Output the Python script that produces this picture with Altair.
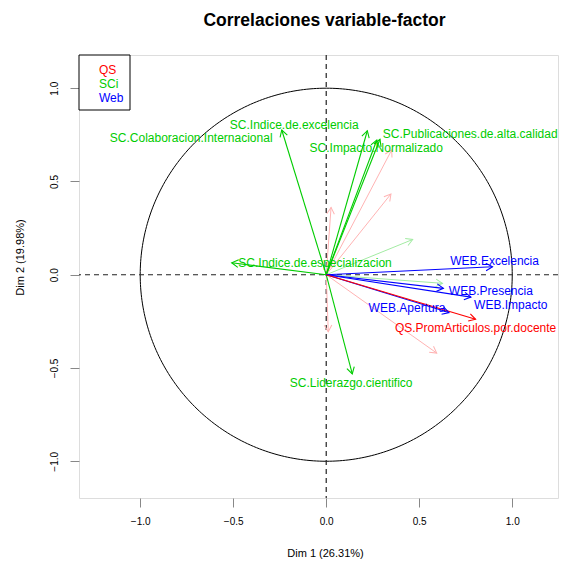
import altair as alt
import numpy as np
import pandas as pd

# Variables drawn with a name: coordinates on Dim 1 / Dim 2
var_names = [
    "SC.Colaboracion.Internacional", "SC.Indice.de.excelencia",
    "SC.Publicaciones.de.alta.calidad", "SC.Impacto.Normalizado",
    "SC.Indice.de.especializacion", "SC.Liderazgo.cientifico",
    "WEB.Excelencia", "WEB.Presencia", "WEB.Impacto", "WEB.Apertura",
    "QS.PromArticulos.por.docente",
]
var_group = ["SCi"] * 6 + ["Web"] * 4 + ["QS"]
var_dim1 = [-0.239, 0.221, 0.289, 0.272, -0.508, 0.140, 0.894, 0.630, 0.778, 0.660, 0.803]
var_dim2 = [0.776, 0.772, 0.726, 0.722, 0.064, -0.532, 0.043, -0.073, -0.120, -0.203, -0.239]
# where each name is written
label_dim1 = [-0.726, -0.172, 0.774, 0.269, -0.060, 0.134, 0.905, 0.885, 0.992, 0.434, 0.803]
label_dim2 = [0.735, 0.804, 0.754, 0.681, 0.061, -0.582, 0.075, -0.087, -0.162, -0.177, -0.287]

# Variables drawn faded, without a name
faded_group = ["SCi", "SCi", "QS", "QS", "QS", "QS", "QS"]
faded_dim1 = [0.465, 0.625, 0.352, 0.348, 0.026, 0.594, 0.011]
faded_dim2 = [0.189, -0.046, 0.669, 0.433, 0.361, -0.420, -0.306]

groups = ["QS", "SCi", "Web"]
group_colors = {"QS": "#FF0000", "SCi": "#00CC00", "Web": "#0000FF"}
faded_colors = {"QS": "#FFB3B3", "SCi": "#A3EBA3", "Web": "#B3B3FF"}

FONT = "Liberation Sans"
X_DOMAIN = [-1.329, 1.246]
Y_DOMAIN = [-1.197, 1.178]

# open "V" arrow head, tip at the origin, pointing up
HEAD = "M-0.5,0.87L0,0L0.5,0.87"


def head_angle(dx, dy):
    return (np.degrees(np.arctan2(dx, dy)) + 360.0) % 360.0


var_df = pd.DataFrame({
    "name": var_names, "group": var_group,
    "d1": var_dim1, "d2": var_dim2,
    "lx": label_dim1, "ly": label_dim2,
})
var_df["o"] = 0.0
var_df["ang"] = head_angle(var_df["d1"], var_df["d2"])
var_df["col"] = var_df["group"].map(group_colors)

faded_df = pd.DataFrame({"group": faded_group, "d1": faded_dim1, "d2": faded_dim2})
faded_df["o"] = 0.0
faded_df["ang"] = head_angle(faded_df["d1"], faded_df["d2"])
faded_df["col"] = faded_df["group"].map(faded_colors)

# unit circle of correlations
theta = np.linspace(0, 2 * np.pi, 361)
circle_df = pd.DataFrame({"cx": np.cos(theta), "cy": np.sin(theta), "k": np.arange(361)})

TICKS = [-1.0, -0.5, 0.0, 0.5, 1.0]
xscale = alt.Scale(domain=X_DOMAIN, nice=False, zero=False)
yscale = alt.Scale(domain=Y_DOMAIN, nice=False, zero=False)
xaxis = alt.Axis(
    title="Dim 1 (26.31%)", values=TICKS, format=".1f", grid=False, domain=False,
    tickSize=9, labelPadding=9,
    titleY=55, titleX=246, titleBaseline="middle", titleFontWeight="normal",
)
yaxis = alt.Axis(
    title="Dim 2 (19.98%)", values=TICKS, format=".1f", grid=False, domain=False,
    tickSize=9, labelPadding=11,
    labelAngle=270, labelAlign="center", labelBaseline="bottom",
    titleAngle=270, titleX=-59, titleY=202, titleBaseline="middle", titleAlign="center",
    titleFontWeight="normal",
)

color_direct = alt.Color("col:N", scale=None, legend=None)

circle = alt.Chart(circle_df).mark_line(color="black", strokeWidth=1).encode(
    x=alt.X("cx:Q", scale=xscale, axis=xaxis),
    y=alt.Y("cy:Q", scale=yscale, axis=yaxis),
    order="k:Q",
)

zero_df = pd.DataFrame({"v": [0.0]})
vline = alt.Chart(zero_df).mark_rule(color="#222222", strokeWidth=1.2, strokeDash=[5, 4]).encode(
    x=alt.X("v:Q", scale=xscale, axis=xaxis)
)
hline = alt.Chart(zero_df).mark_rule(color="#222222", strokeWidth=1.2, strokeDash=[5, 4]).encode(
    y=alt.Y("v:Q", scale=yscale, axis=yaxis)
)

faded_lines = alt.Chart(faded_df).mark_rule(strokeWidth=1).encode(
    x=alt.X("o:Q", scale=xscale, axis=xaxis), y=alt.Y("o:Q", scale=yscale, axis=yaxis),
    x2="d1:Q", y2="d2:Q", color=color_direct,
)
faded_heads = alt.Chart(faded_df).mark_point(
    shape=HEAD, filled=False, strokeWidth=1, size=230, opacity=1
).encode(
    x=alt.X("d1:Q", scale=xscale, axis=xaxis), y=alt.Y("d2:Q", scale=yscale, axis=yaxis),
    angle=alt.Angle("ang:Q", scale=None), color=color_direct,
)

lines = alt.Chart(var_df).mark_rule(strokeWidth=1.1).encode(
    x=alt.X("o:Q", scale=xscale, axis=xaxis), y=alt.Y("o:Q", scale=yscale, axis=yaxis),
    x2="d1:Q", y2="d2:Q", color=color_direct,
)
heads = alt.Chart(var_df).mark_point(
    shape=HEAD, filled=False, strokeWidth=1.1, size=230, opacity=1
).encode(
    x=alt.X("d1:Q", scale=xscale, axis=xaxis), y=alt.Y("d2:Q", scale=yscale, axis=yaxis),
    angle=alt.Angle("ang:Q", scale=None), color=color_direct,
)
labels = alt.Chart(var_df).mark_text(
    font=FONT, fontSize=12, align="center", baseline="middle"
).encode(
    x=alt.X("lx:Q", scale=xscale, axis=xaxis), y=alt.Y("ly:Q", scale=yscale, axis=yaxis),
    text="name:N", color=color_direct,
)

# legend box in the top-left corner
legend_box = alt.Chart(zero_df).mark_rect(fill="white", stroke="black", strokeWidth=1).encode(
    x=alt.value(0), x2=alt.value(51), y=alt.value(0), y2=alt.value(55)
)
legend_texts = [
    alt.Chart(pd.DataFrame({"g": [g]})).mark_text(
        font=FONT, fontSize=12, align="left", baseline="middle", color=group_colors[g]
    ).encode(x=alt.value(20), y=alt.value(15 + 14 * i), text="g:N")
    for i, g in enumerate(groups)
]

chart = alt.layer(
    circle, vline, hline, faded_lines, faded_heads, lines, heads, labels,
    legend_box, *legend_texts,
).properties(
    width=479,
    height=443,
    autosize=alt.AutoSizeParams(type="none"),
    padding={"left": 79, "top": 55, "right": 10, "bottom": 67},
    title=alt.TitleParams(
        "Correlaciones variable-factor", font=FONT, fontSize=17.5, fontWeight="bold",
        anchor="middle", dx=6, offset=16, baseline="middle", frame="group", color="black",
    ),
).configure_view(
    stroke="black", strokeWidth=1
).configure_axis(
    grid=False, domain=False, ticks=True, tickColor="#222222",
    labelFont=FONT, labelFontSize=12, labelColor="#222222",
    titleFont=FONT, titleFontSize=12, titleFontWeight="normal", titleColor="#222222",
).configure(background="white")

chart.save("out.html", embed_options={"renderer": "svg", "actions": False})
